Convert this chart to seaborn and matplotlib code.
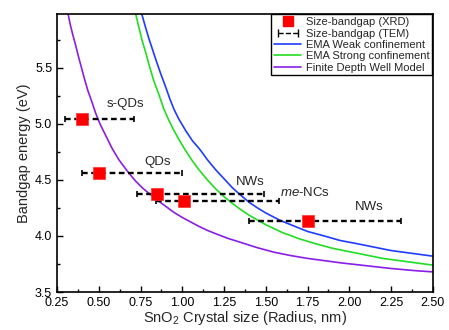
import numpy as np
import seaborn as sns
import matplotlib.pyplot as plt
from matplotlib.lines import Line2D
from matplotlib.legend_handler import HandlerLine2D
from matplotlib.ticker import MultipleLocator

# XRD size vs bandgap
xrd_r = [0.40, 0.50, 0.85, 1.01, 1.75]
xrd_e = [5.04, 4.56, 4.37, 4.31, 4.13]
# TEM size ranges
tem_lo = [0.30, 0.40, 0.73, 0.84, 1.40]
tem_hi = [0.71, 1.00, 1.49, 1.58, 2.31]

# model curves
weak_r = [0.757, 0.78, 0.80, 0.82, 0.842, 0.87, 0.90, 0.926, 0.95, 0.98, 1.02, 1.06, 1.106,
          1.15, 1.20, 1.25, 1.30, 1.333, 1.40, 1.45, 1.50, 1.584, 1.65, 1.75, 1.85, 1.944,
          2.05, 2.15, 2.25, 2.35, 2.50]
weak_e = [5.98, 5.86, 5.76, 5.67, 5.57, 5.45, 5.33, 5.22, 5.13, 5.04, 4.94, 4.85, 4.77,
          4.68, 4.59, 4.51, 4.43, 4.385, 4.30, 4.25, 4.205, 4.14, 4.10, 4.04, 4.00, 3.96,
          3.93, 3.90, 3.87, 3.85, 3.82]
strong_r = [0.721, 0.74, 0.76, 0.78, 0.80, 0.83, 0.86, 0.89, 0.92, 0.95, 0.98, 1.016, 1.06,
            1.10, 1.15, 1.20, 1.25, 1.30, 1.35, 1.40, 1.50, 1.60, 1.70, 1.80, 1.90, 2.00,
            2.10, 2.20, 2.30, 2.40, 2.50]
strong_e = [5.98, 5.86, 5.74, 5.64, 5.53, 5.38, 5.26, 5.13, 5.03, 4.94, 4.86, 4.77, 4.67,
            4.59, 4.50, 4.42, 4.35, 4.29, 4.235, 4.185, 4.10, 4.03, 3.975, 3.93, 3.89, 3.86,
            3.83, 3.80, 3.78, 3.76, 3.74]
fdw_r = [0.316, 0.33, 0.345, 0.358, 0.38, 0.40, 0.42, 0.436, 0.46, 0.48, 0.507, 0.54, 0.58,
         0.62, 0.675, 0.72, 0.76, 0.80, 0.85, 0.90, 0.95, 1.00, 1.05, 1.10, 1.15, 1.20,
         1.27, 1.345, 1.45, 1.55, 1.65, 1.75, 1.85, 1.95, 2.10, 2.25, 2.40, 2.50]
fdw_e = [5.98, 5.88, 5.79, 5.72, 5.59, 5.48, 5.37, 5.29, 5.19, 5.10, 5.00, 4.90, 4.78,
         4.68, 4.57, 4.49, 4.43, 4.38, 4.32, 4.265, 4.21, 4.165, 4.125, 4.085, 4.05, 4.02,
         3.98, 3.945, 3.895, 3.855, 3.825, 3.80, 3.78, 3.76, 3.735, 3.71, 3.69, 3.68]

labels = ["s-QDs", "QDs", "NWs", "me-NCs", "NWs"]
label_x = [0.66, 0.85, 1.405, 1.735, 2.12]
label_y = [5.18, 4.66, 4.48, 4.39, 4.26]

sns.set_style("ticks")
plt.rcParams["font.family"] = ["Liberation Sans", "DejaVu Sans"]
plt.rcParams["mathtext.fontset"] = "custom"
plt.rcParams["mathtext.rm"] = "Liberation Sans"
plt.rcParams["mathtext.it"] = "Liberation Sans:italic"

fig = plt.figure(figsize=(4.49, 3.30), dpi=100)
ax = fig.add_axes([0.127, 0.115, 0.837, 0.843])

sns.lineplot(x=weak_r, y=weak_e, color="#1f3cff", lw=1.2, ax=ax, sort=False)
sns.lineplot(x=strong_r, y=strong_e, color="#22dd22", lw=1.2, ax=ax, sort=False)
sns.lineplot(x=fdw_r, y=fdw_e, color="#8a1ee8", lw=1.2, ax=ax, sort=False)

xr = np.array(xrd_r)
eb = ax.errorbar(xrd_r, xrd_e, xerr=[xr - np.array(tem_lo), np.array(tem_hi) - xr],
                 fmt="none", ecolor="black", elinewidth=1.7, capsize=2.5, capthick=1.2, zorder=3)
eb[-1][0].set_linestyle((0, (2.4, 1.5)))
sns.scatterplot(x=xrd_r, y=xrd_e, marker="s", s=85, color="#ff0000", edgecolor="#ff3030",
                linewidth=0.5, ax=ax, zorder=4)

for t, x, y in zip(labels, label_x, label_y):
    if t == "me-NCs":
        t = r"$\mathit{me}$-NCs"
    ax.text(x, y, t, fontsize=9.5, ha="center", va="center")

ax.set_xlim(0.25, 2.5)
ax.set_ylim(3.5, 5.98)
ax.xaxis.set_minor_locator(MultipleLocator(0.125))
ax.yaxis.set_major_locator(MultipleLocator(0.5))
ax.yaxis.set_minor_locator(MultipleLocator(0.25))
ax.set_xticks(np.arange(0.25, 2.51, 0.25))
ax.set_xticklabels([f"{v:.2f}" for v in np.arange(0.25, 2.51, 0.25)])
ax.tick_params(which="both", direction="in", labelsize=9, colors="black")
ax.tick_params(which="major", length=4, width=1)
ax.tick_params(which="minor", length=2.5, width=1)
for s in ax.spines.values():
    s.set_linewidth(1.2)
    s.set_color("black")

ax.set_xlabel(r"SnO$_2$ Crystal size (Radius, nm)", fontsize=10.5, labelpad=0)
ax.set_ylabel("Bandgap energy (eV)", fontsize=10.5, labelpad=3)

h_xrd = Line2D([], [], marker="s", color="#ff0000", ls="none", markersize=7)
h_tem = Line2D([], [], color="black", ls="--", lw=1, marker="|", markersize=6)
h_w = Line2D([], [], color="#1f3cff", lw=1.2)
h_s = Line2D([], [], color="#22dd22", lw=1.2)
h_f = Line2D([], [], color="#8a1ee8", lw=1.2)
leg = ax.legend([h_xrd, h_tem, h_w, h_s, h_f],
                ["Size-bandgap (XRD)", "Size-bandgap (TEM)", "EMA Weak confinement",
                 "EMA Strong confinement", "Finite Depth Well Model"],
                loc="upper right", fontsize=8, frameon=True, fancybox=False,
                edgecolor="black", framealpha=1, borderpad=0.25, labelspacing=0.12,
                handlelength=2.4, handletextpad=0.45, borderaxespad=0.05,
                handler_map={h_tem: HandlerLine2D(numpoints=2)})
leg.get_frame().set_linewidth(1.0)

fig.savefig("out.png", dpi=100)
